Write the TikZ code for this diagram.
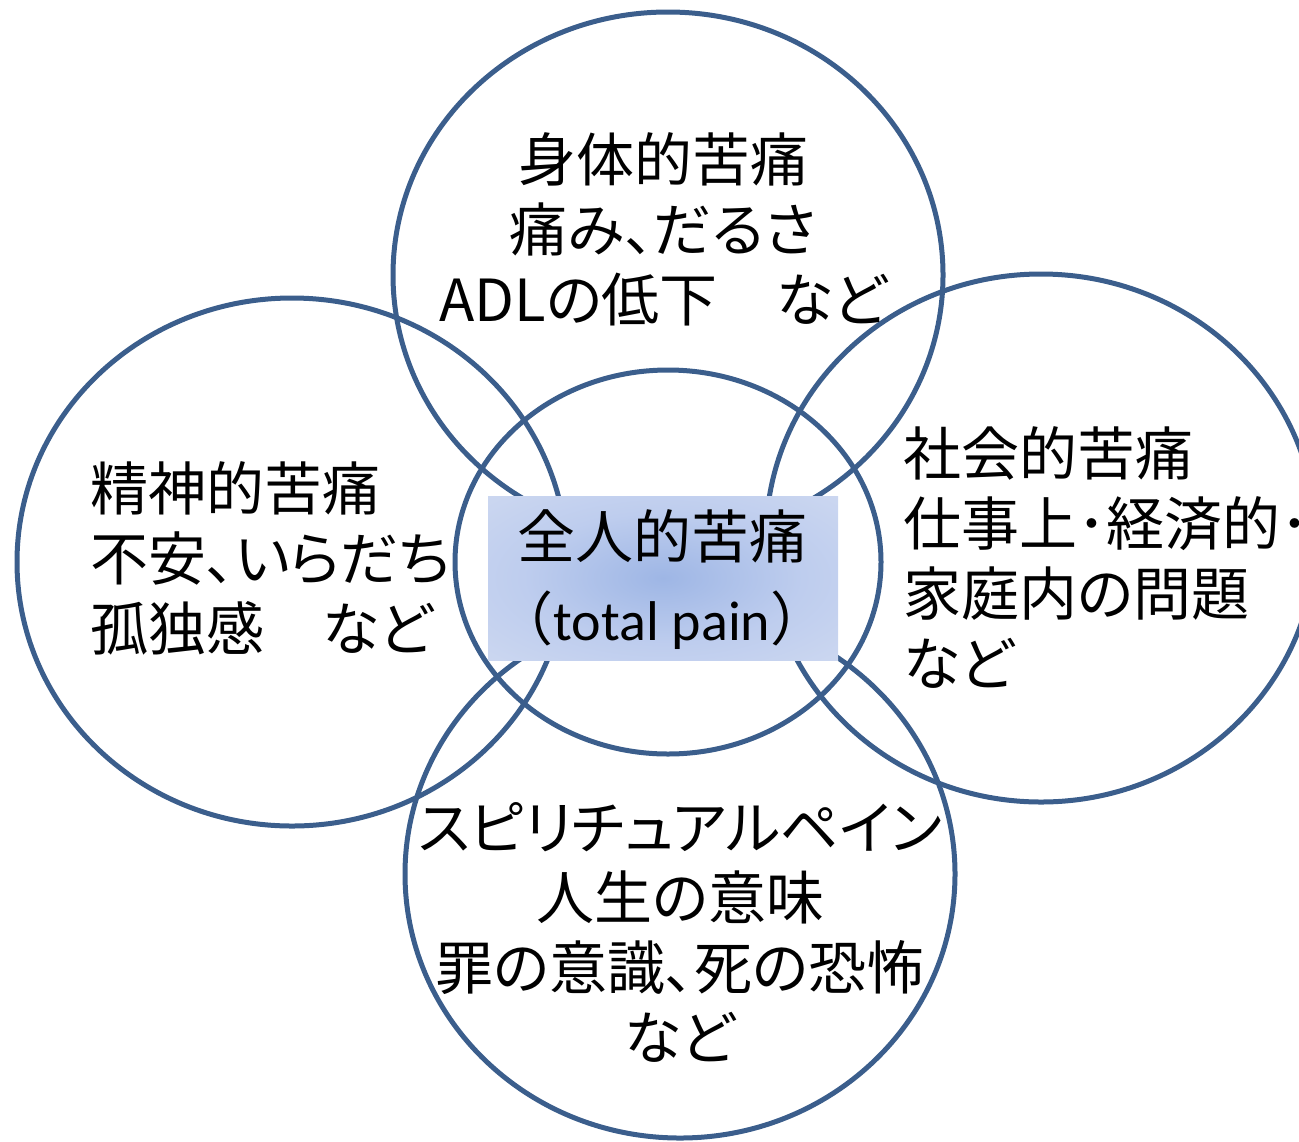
\documentclass[tikz,border=0pt]{standalone}
\usepackage{fontspec}
\setmainfont{Noto Sans CJK JP}[RawFeature=+palt]
\newfontfamily\jpfw{Noto Sans CJK JP}
\newfontfamily\latinc{Carlito}
\usetikzlibrary{shapes.geometric}
\definecolor{ring}{RGB}{59,94,140}
\definecolor{bcA}{RGB}{158,182,229}
\definecolor{bcB}{RGB}{190,205,238}
\definecolor{bcC}{RGB}{216,224,242}
\definecolor{bcD}{RGB}{229,233,245}
\pgfdeclareradialshading{boxshade}{\pgfpoint{0bp}{0bp}}{color(0bp)=(bcA); color(20bp)=(bcB); color(50bp)=(bcC); color(72bp)=(bcD)}
\tikzset{
  ringshape/.style={ellipse, draw=ring, line width=2.5pt, inner sep=0pt, outer sep=0pt},
  txt/.style={inner sep=0pt, font=\fontsize{29}{35}\selectfont, text=black},
}
\begin{document}
\begin{tikzpicture}[x=0.5pt, y=-0.5pt]
\useasboundingbox (0,0) rectangle (1299,1141);
\clip (0,0) rectangle (1299,1141);
% rings
\node[ringshape, minimum width=275pt, minimum height=263pt] (physical) at (668,275) {};
\node[ringshape, minimum width=275pt, minimum height=264pt] (mental) at (292,562) {};
\node[ringshape, minimum width=275pt, minimum height=264pt] (social) at (1041,538) {};
\node[ringshape, minimum width=275pt, minimum height=264pt] (spiritual) at (680,874) {};
\node[ringshape, minimum width=213pt, minimum height=192pt] (total) at (668,562) {};
% central box
\shade[shading=boxshade] (488,496) rectangle (838,660);
\node[txt, align=center] (center) at (662,580) {全人的苦痛\\[6pt]{\jpfw （}{\latinc\fontsize{28}{35}\selectfont total pain}{\jpfw ）}};
% texts
\node[txt, align=center] (tphys) at (663,229) {身体的苦痛\\痛み、だるさ\\ADLの低下　など};
\node[txt, align=left, anchor=west] (tment) at (90,558) {精神的苦痛\\不安、いらだち\\孤独感　など};
\node[txt, align=left, anchor=west] (tsoc) at (903,557) {社会的苦痛\\仕事上･経済的･\\家庭内の問題\\など};
\node[txt, align=center] (tspir) at (680,932) {スピリチュアルペイン\\人生の意味\\罪の意識、死の恐怖\\など};
\end{tikzpicture}
\end{document}
